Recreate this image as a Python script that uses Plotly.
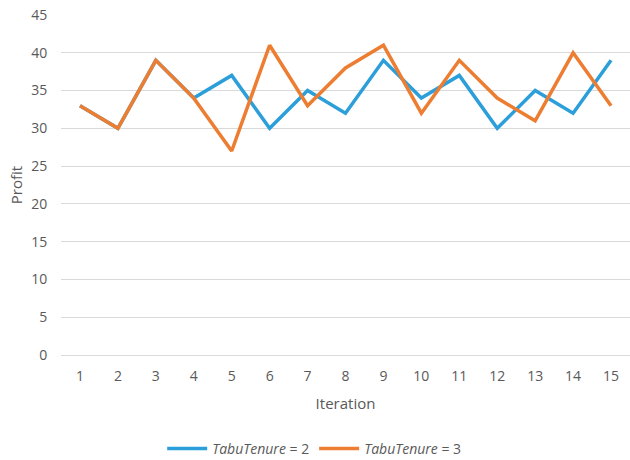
import plotly.graph_objects as go

iterations = list(range(1, 16))
profit_tenure2 = [33, 30, 39, 34, 37, 30, 35, 32, 39, 34, 37, 30, 35, 32, 39]
profit_tenure3 = [33, 30, 39, 34, 27, 41, 33, 38, 41, 32, 39, 34, 31, 40, 33]
y_ticks = list(range(0, 50, 5))

fig = go.Figure()
fig.add_trace(go.Scatter(
    x=[str(i) for i in iterations], y=profit_tenure2, mode="lines",
    name="<i>TabuTenure</i> = 2",
    line=dict(color="#2C9FDB", width=3.5),
))
fig.add_trace(go.Scatter(
    x=[str(i) for i in iterations], y=profit_tenure3, mode="lines",
    name="<i>TabuTenure</i> = 3",
    line=dict(color="#ED7D31", width=3.5),
))

font_family = "Open Sans, Liberation Sans, sans-serif"
fig.update_layout(
    width=630, height=460,
    margin=dict(l=61, r=0, t=15, b=105, autoexpand=False),
    paper_bgcolor="white", plot_bgcolor="white",
    font=dict(family=font_family, color="#595959", size=14),
    showlegend=True,
    legend=dict(orientation="h", x=0.445, xanchor="center",
                yref="container", y=0.024, yanchor="middle",
                font=dict(size=14, color="#595959"), itemwidth=40,
                tracegroupgap=0),
    xaxis=dict(
        type="category", range=[-0.5, 14.5], automargin=False,
        showgrid=False, showline=False, zeroline=False,
        ticks="outside", ticklen=8, tickcolor="white",
        title=dict(text="Iteration", font=dict(size=15, color="#595959"), standoff=14),
        tickfont=dict(size=14, color="#595959"),
    ),
    yaxis=dict(
        range=[0, 45], tickvals=y_ticks, automargin=False,
        showgrid=True, gridcolor="#D9D9D9", gridwidth=1,
        zeroline=True, zerolinecolor="#D9D9D9", zerolinewidth=1,
        showline=False, ticks="outside", ticklen=10, tickcolor="white",
        title=dict(text="Profit", font=dict(size=15, color="#595959"), standoff=4),
        tickfont=dict(size=14, color="#595959"),
    ),
)

fig.write_html("out.html")
